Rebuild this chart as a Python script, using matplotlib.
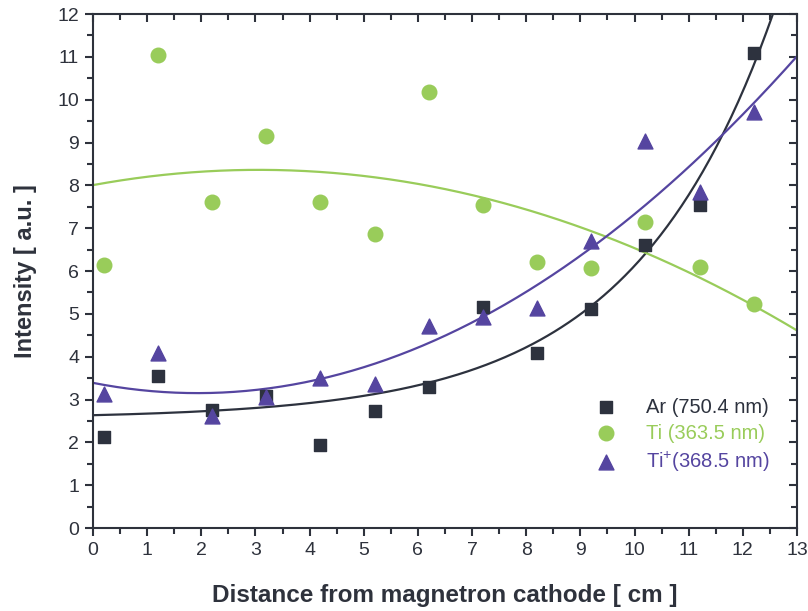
import numpy as np
import matplotlib.pyplot as plt
from matplotlib.ticker import MultipleLocator

plt.rcParams['font.family'] = ['Liberation Sans', 'DejaVu Sans']
plt.rcParams['mathtext.fontset'] = 'custom'
plt.rcParams['mathtext.rm'] = 'Liberation Sans'

# distance from cathode (cm)
distance = [0.2, 1.2, 2.2, 3.2, 4.2, 5.2, 6.2, 7.2, 8.2, 9.2, 10.2, 11.2, 12.2]
# intensities
ar_int = [2.12, 3.55, 2.75, 3.08, 1.94, 2.73, 3.30, 5.15, 4.08, 5.12, 6.61, 7.54, 11.10]
ti_int = [6.15, 11.04, 7.61, 9.15, 7.61, 6.87, 10.18, 7.55, 6.22, 6.08, 7.15, 6.10, 5.23]
tip_int = [3.14, 4.08, 2.61, 3.07, 3.50, 3.36, 4.72, 4.92, 5.13, 6.71, 9.03, 7.85, 9.72]

dark = '#2e323c'
c_ar = '#2d323e'
c_ti = '#99cc5a'
c_tip = '#5545a0'

x = np.array(distance)
xf = np.linspace(0, 13, 300)

# exponential fit y = y0 + A*exp(x/t) for Ar
best = None
for t in np.linspace(1.0, 10.0, 400):
    M = np.column_stack([np.ones_like(x), np.exp(x / t)])
    coef, res, _, _ = np.linalg.lstsq(M, np.array(ar_int), rcond=None)
    err = np.sum((M @ coef - ar_int) ** 2)
    if best is None or err < best[0]:
        best = (err, t, coef)
_, t_ar, c_fit = best
ar_fit = c_fit[0] + c_fit[1] * np.exp(xf / t_ar)

# second order polynomial fits for Ti and Ti+
ti_fit = np.polyval(np.polyfit(x, ti_int, 2), xf)
tip_fit = np.polyval(np.polyfit(x, tip_int, 2), xf)

fig = plt.figure(figsize=(8.08, 6.11), dpi=100)
ax = fig.add_axes([0.1151, 0.1358, 0.8713, 0.8412])

ax.plot(xf, ar_fit, color=c_ar, lw=1.6)
ax.plot(xf, ti_fit, color=c_ti, lw=1.6)
ax.plot(xf, tip_fit, color=c_tip, lw=1.6)

ax.scatter(distance, ar_int, marker='s', s=65, color=c_ar, zorder=3, label='Ar (750.4 nm)')
ax.scatter(distance, ti_int, marker='o', s=110, color=c_ti, zorder=3, label='Ti (363.5 nm)')
ax.scatter(distance, tip_int, marker='^', s=115, color=c_tip, zorder=3, label='Ti$^{+}$(368.5 nm)')

ax.set_xlim(0, 13)
ax.set_ylim(0, 12)
ax.xaxis.set_major_locator(MultipleLocator(1))
ax.xaxis.set_minor_locator(MultipleLocator(0.5))
ax.yaxis.set_major_locator(MultipleLocator(1))
ax.yaxis.set_minor_locator(MultipleLocator(0.5))

for s in ax.spines.values():
    s.set_color(dark)
    s.set_linewidth(1.5)

ax.tick_params(which='major', direction='out', length=6, width=1.5, color=dark,
               labelsize=14, labelcolor=dark, pad=4)
ax.tick_params(which='minor', direction='out', length=4, width=1.5, color=dark)

top = ax.secondary_xaxis('top')
top.xaxis.set_major_locator(MultipleLocator(1))
top.xaxis.set_minor_locator(MultipleLocator(0.5))
top.tick_params(which='major', direction='in', length=6, width=1.5, color=dark, labeltop=False)
top.tick_params(which='minor', direction='in', length=4, width=1.5, color=dark)
top.spines['top'].set_visible(False)

right = ax.secondary_yaxis('right')
right.yaxis.set_major_locator(MultipleLocator(1))
right.yaxis.set_minor_locator(MultipleLocator(0.5))
right.tick_params(which='major', direction='in', length=6, width=1.5, color=dark, labelright=False)
right.tick_params(which='minor', direction='in', length=4, width=1.5, color=dark)
right.spines['right'].set_visible(False)

ax.set_xlabel('Distance from magnetron cathode [ cm ]', fontsize=17.5, fontweight='bold',
              color=dark, labelpad=18)
ax.set_ylabel('Intensity [ a.u. ]', fontsize=17, fontweight='bold', color=dark, labelpad=15)

leg = ax.legend(loc='lower right', bbox_to_anchor=(0.973, 0.09), frameon=False,
                fontsize=14.5, handletextpad=1.0, labelspacing=0.35, borderaxespad=0)
for txt, col in zip(leg.get_texts(), [c_ar, c_ti, c_tip]):
    txt.set_color(col)

fig.savefig('out.png', dpi=100)
